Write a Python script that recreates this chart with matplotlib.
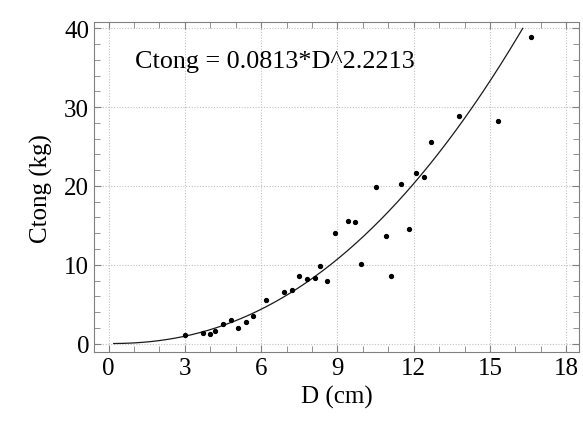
import numpy as np
import matplotlib
matplotlib.use("Agg")
import matplotlib.pyplot as plt
from matplotlib.ticker import MultipleLocator

# observed diameter (cm) and weight (kg)
d_cm = [3.0, 3.7, 3.98, 4.19, 4.49, 4.8, 5.1, 5.39, 5.67, 6.2,
        6.89, 7.2, 7.5, 7.8, 8.1, 8.31, 8.6, 8.9, 9.41, 9.7,
        9.91, 10.5, 10.9, 11.1, 11.52, 11.8, 12.11, 12.41, 12.7, 13.8,
        15.31, 16.6]
ctong_kg = [1.05, 1.39, 1.18, 1.56, 2.45, 3.05, 2.03, 2.74, 3.5, 5.5,
            6.51, 6.77, 8.57, 8.15, 8.36, 9.88, 7.89, 14.01, 15.53, 15.37,
            10.11, 19.81, 13.66, 8.51, 20.31, 14.6, 21.59, 21.12, 25.6, 28.9,
            28.19, 38.9]

# fitted model Ctong = a * D^b
coef_a = 0.0813
coef_b = 2.2213
fit_label = "Ctong = 0.0813*D^2.2213"

plt.rcParams['font.family'] = ['Liberation Serif', 'DejaVu Serif']

fig = plt.figure(figsize=(5.83, 4.35), dpi=100)
ax = fig.add_axes([0.161, 0.188, 0.832, 0.759])

d_max = (40 / coef_a) ** (1 / coef_b)
xs = np.linspace(0.2, d_max, 300)
ax.plot(xs, coef_a * xs ** coef_b, color='#1a1a1a', lw=0.9)
ax.plot(d_cm, ctong_kg, 'o', color='black', ms=2.8)

ax.text(1.03, 35.8, fit_label, fontsize=18.8, va='center', ha='left')

ax.set_xlim(-0.58, 18.5)
ax.set_ylim(-1.1, 40.8)
ax.xaxis.set_major_locator(MultipleLocator(3))
ax.xaxis.set_minor_locator(MultipleLocator(1))
ax.yaxis.set_major_locator(MultipleLocator(10))
ax.yaxis.set_minor_locator(MultipleLocator(2))

ax.grid(True, which='major', color='#c0c0c0', linestyle=(0, (1, 1.5)), lw=0.8)
for s in ax.spines.values():
    s.set_color('#808080')
ax.tick_params(which='both', direction='in', top=True, right=True,
               colors='#808080', labelcolor='black', labelsize=18)
ax.tick_params(which='major', length=5)
ax.tick_params(which='minor', length=4)

ax.set_xlabel('D (cm)', fontsize=18, labelpad=4)
ax.set_ylabel('Ctong (kg)', fontsize=18, labelpad=8)

fig.savefig('out.png', dpi=100)
